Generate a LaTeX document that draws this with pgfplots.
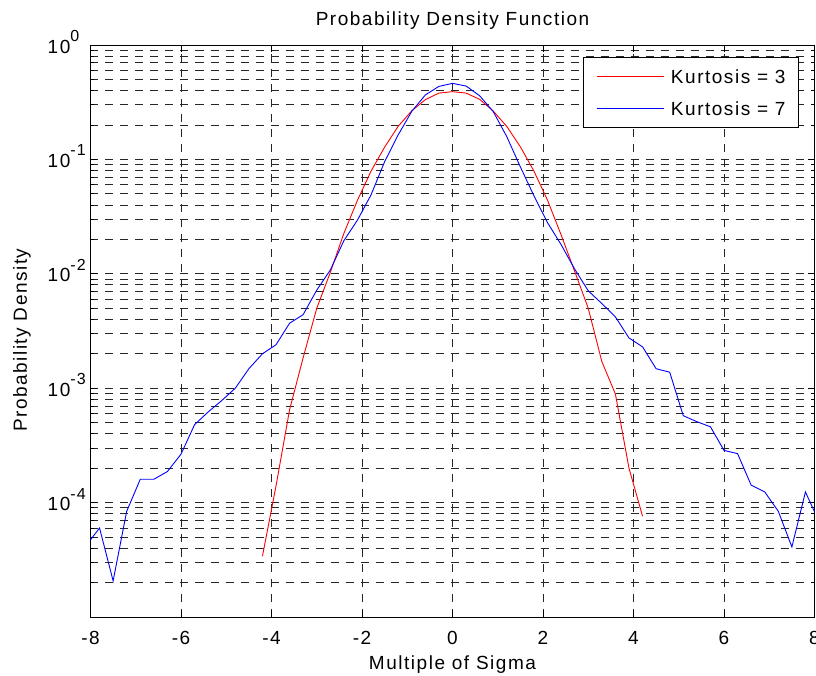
\documentclass[border=0pt]{standalone}
\usepackage{fontspec}
\setmainfont{Liberation Sans}[LetterSpace=8]
\usepackage{pgfplots}
\usepackage{pgfplotstable}
\pgfplotsset{compat=1.18}

\newcommand\fsz{\fontsize{19}{22}\selectfont}
\newcommand\tenpow[1]{10\raisebox{11.5pt}{\fontsize{16}{16}\selectfont#1}}

% histogram density estimates, bins 0.3 sigma wide
\pgfplotstableread{
x      p
-4.2   3.4e-5
-3.9   1.4e-4
-3.6   6.5e-4
-3.3   1.85e-3
-3.0   5.0e-3
-2.7   1.03e-2
-2.4   2.26e-2
-2.1   4.4e-2
-1.8   7.9e-2
-1.5   1.28e-1
-1.2   1.95e-1
-0.9   2.66e-1
-0.6   3.33e-1
-0.3   3.80e-1
 0.0   3.91e-1
 0.3   3.80e-1
 0.6   3.35e-1
 0.9   2.65e-1
 1.2   1.94e-1
 1.5   1.29e-1
 1.8   7.9e-2
 2.1   4.4e-2
 2.4   2.19e-2
 2.7   1.05e-2
 3.0   5.0e-3
 3.3   1.71e-3
 3.6   8.9e-4
 3.9   2.0e-4
 4.2   7.6e-5
}\kurtthree

\pgfplotstableread{
x      p
-8.1   4.2e-5
-7.8   6.0e-5
-7.5   2.07e-5
-7.2   8.4e-5
-6.9   1.6e-4
-6.6   1.6e-4
-6.3   1.87e-4
-6.0   2.65e-4
-5.7   4.8e-4
-5.4   6.2e-4
-5.1   7.8e-4
-4.8   1.0e-3
-4.5   1.48e-3
-4.2   2.0e-3
-3.9   2.4e-3
-3.6   3.7e-3
-3.3   4.4e-3
-3.0   7.2e-3
-2.7   1.08e-2
-2.4   1.95e-2
-2.1   2.95e-2
-1.8   4.9e-2
-1.5   9.55e-2
-1.2   1.64e-1
-0.9   2.63e-1
-0.6   3.66e-1
-0.3   4.35e-1
 0.0   4.62e-1
 0.3   4.38e-1
 0.6   3.60e-1
 0.9   2.62e-1
 1.2   1.58e-1
 1.5   8.6e-2
 1.8   4.8e-2
 2.1   2.8e-2
 2.4   1.8e-2
 2.7   1.1e-2
 3.0   7.1e-3
 3.3   5.5e-3
 3.6   4.2e-3
 3.9   2.75e-3
 4.2   2.3e-3
 4.5   1.48e-3
 4.8   1.38e-3
 5.1   5.75e-4
 5.4   5.1e-4
 5.7   4.6e-4
 6.0   2.86e-4
 6.3   2.68e-4
 6.6   1.42e-4
 6.9   1.24e-4
 7.2   8.4e-5
 7.5   4.1e-5
 7.8   1.24e-4
 8.1   6.8e-5
}\kurtseven

\begin{document}
\begin{tikzpicture}
\begin{axis}[
  scale only axis,
  width=724pt, height=572pt,
  xmin=-8, xmax=8,
  ymode=log, ymin=1e-5, ymax=1,
  xtick={-8,-6,...,8},
  xticklabels={-8,-6,-4,-2,0,2,4,6,8},
  ytick={1e-4,1e-3,1e-2,1e-1,1},
  yticklabels={\tenpow{-4},\tenpow{-3},\tenpow{-2},\tenpow{-1},\tenpow{0}},
  minor ytick={2e-5,3e-5,4e-5,5e-5,6e-5,7e-5,8e-5,9e-5,
               2e-4,3e-4,4e-4,5e-4,6e-4,7e-4,8e-4,9e-4,
               2e-3,3e-3,4e-3,5e-3,6e-3,7e-3,8e-3,9e-3,
               2e-2,3e-2,4e-2,5e-2,6e-2,7e-2,8e-2,9e-2,
               2e-1,3e-1,4e-1,5e-1,6e-1,7e-1,8e-1,9e-1},
  xmajorgrids, ymajorgrids, yminorgrids,
  grid style={black!85, line width=0.8pt, dash pattern=on 8pt off 7pt},
  tick align=inside, tick pos=both,
  major tick length=7pt, minor tick length=4pt,
  every tick/.style={black, line width=0.8pt},
  axis line style={black, line width=1pt},
  tick label style={font=\fsz},
  xticklabel style={anchor=base, inner sep=0pt, yshift=-27pt},
  yticklabel style={anchor=base west, inner sep=0pt, xshift=-43pt, yshift=-8pt},
  title={Probability Density Function},
  title style={font=\fsz, at={(0.5,1)}, anchor=base, yshift=14pt},
  xlabel={Multiple of Sigma},
  xlabel style={font=\fsz, at={(0.5,0)}, anchor=base, yshift=-52pt},
  ylabel={Probability Density},
  ylabel style={font=\fsz, at={(-0.0877,0.484)}, anchor=base},
  legend style={font=\fsz, at={(0.9786,0.979)}, anchor=north east,
    draw=black, fill=white, line width=1pt,
    inner xsep=13pt, inner ysep=12pt, row sep=18pt, column sep=7pt,
    nodes={inner sep=0pt, text height=14pt, text depth=0pt},
    cells={anchor=west}},
  legend image code/.code={\draw[#1] (0pt,0pt) -- (67pt,0pt);},
]
\addplot[draw=red, line width=0.9pt] table[x=x, y=p] {\kurtthree};
\addlegendentry{Kurtosis = 3}
\addplot[draw=blue, line width=0.9pt] table[x=x, y=p] {\kurtseven};
\addlegendentry{Kurtosis = 7}
\end{axis}
\pgfresetboundingbox
\path ([shift={(-90.5pt,-58pt)}]current axis.south west)
  rectangle ([shift={(1.5pt,45pt)}]current axis.north east);
\end{tikzpicture}
\end{document}
